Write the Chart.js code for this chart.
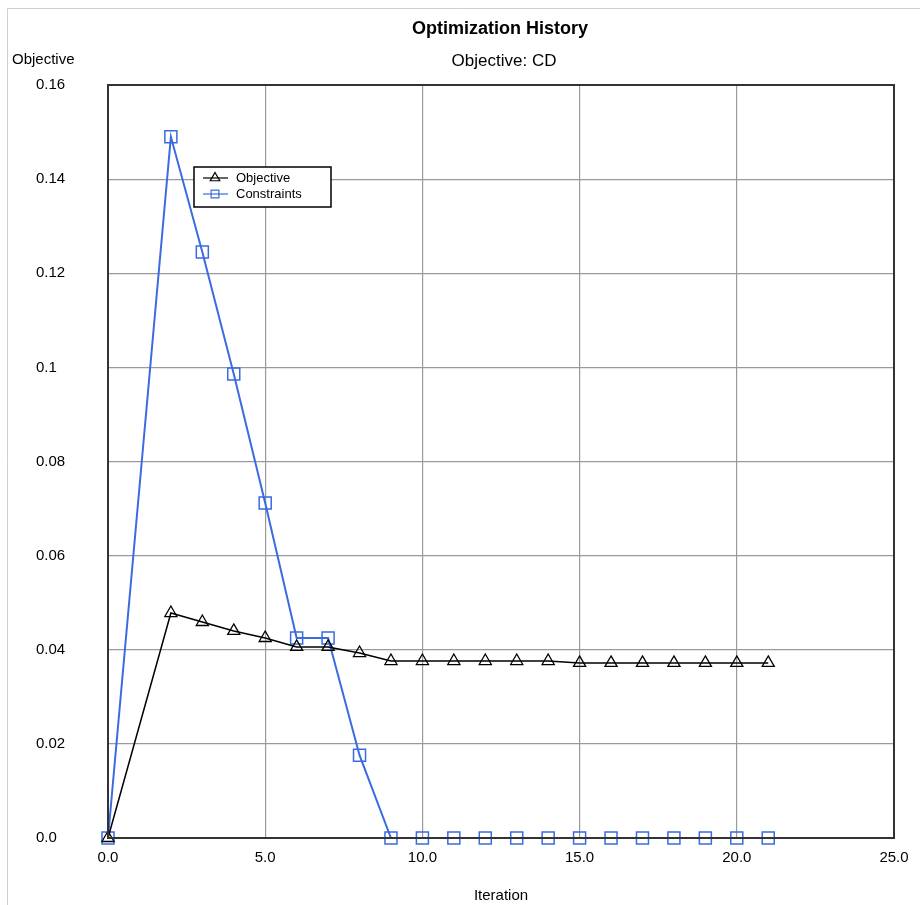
<!DOCTYPE html>
<html>
<head>
<meta charset="utf-8">
<script src="https://cdn.jsdelivr.net/npm/chart.js@4/dist/chart.umd.min.js"></script>
<style>
  html, body { margin: 0; padding: 0; background: #fff; }
  #wrap { width: 920px; height: 905px; position: relative; }
</style>
</head>
<body>
<div id="wrap"><canvas id="chart" width="920" height="905"></canvas></div>
<script>
// Optimization history
const ITERATIONS = [0, 2, 3, 4, 5, 6, 7, 8, 9, 10, 11, 12, 13, 14, 15, 16, 17, 18, 19, 20, 21];
const OBJECTIVE = [0, 0.0478, 0.0459, 0.0440, 0.0425, 0.0406, 0.0406, 0.0393, 0.0376, 0.0376,
  0.0376, 0.0376, 0.0376, 0.0376, 0.0372, 0.0372, 0.0372, 0.0372, 0.0372, 0.0372, 0.0372];
const CONSTRAINTS = [0, 0.149, 0.1245, 0.0986, 0.0712, 0.0425, 0.0425, 0.0176, 0, 0,
  0, 0, 0, 0, 0, 0, 0, 0, 0, 0, 0];
const Y_TICK_LABELS = ['0.0', '0.02', '0.04', '0.06', '0.08', '0.1', '0.12', '0.14', '0.16'];

const FONT = "'Liberation Sans', Arial, sans-serif";
const BLUE = '#3a6be0';

const toPoints = vals => ITERATIONS.map((x, i) => ({ x, y: vals[i] }));

// titles, frame, plot border and the boxed legend inside the plot
const decorPlugin = {
  id: 'decor',
  beforeDraw(chart) {
    const { ctx } = chart;
    ctx.save();
    ctx.strokeStyle = '#cfcfcf';
    ctx.lineWidth = 1;
    ctx.beginPath();
    ctx.moveTo(7.5, 905); ctx.lineTo(7.5, 8.5); ctx.lineTo(920, 8.5);
    ctx.stroke();
    ctx.restore();
  },
  afterDatasetsDraw(chart) {
    const { ctx, chartArea: a } = chart;
    ctx.save();
    // plot border
    ctx.strokeStyle = '#333';
    ctx.lineWidth = 2;
    ctx.strokeRect(a.left, a.top, a.right - a.left, a.bottom - a.top);

    // title + subtitle centred on the plot area
    const cx = (a.left + a.right) / 2;
    ctx.fillStyle = '#000';
    ctx.textAlign = 'center';
    ctx.textBaseline = 'middle';
    ctx.font = `bold 18px ${FONT}`;
    ctx.fillText('Optimization History', cx - 1, 29);
    ctx.font = `17px ${FONT}`;
    ctx.fillText('Objective: CD', cx + 3, 61);
    ctx.textAlign = 'left';
    ctx.font = `15px ${FONT}`;
    ctx.fillText('Objective', 12, 60);

    // legend
    const lx = 194, ly = 167, lw = 137, lh = 40;
    ctx.fillStyle = '#fff';
    ctx.fillRect(lx, ly, lw, lh);
    ctx.strokeStyle = '#000';
    ctx.lineWidth = 1.5;
    ctx.strokeRect(lx, ly, lw, lh);
    chart.data.datasets.forEach((ds, i) => {
      const y = ly + 11 + i * 16;
      ctx.strokeStyle = ds.borderColor;
      ctx.lineWidth = 1.2;
      ctx.beginPath();
      ctx.moveTo(lx + 9, y); ctx.lineTo(lx + 34, y);
      ctx.stroke();
      ctx.fillStyle = 'rgba(255,255,255,0)';
      Chart.helpers.drawPoint(ctx, {
        pointStyle: ds.pointStyle, radius: 5.5, rotation: 0, borderWidth: 1.2
      }, lx + 21, y);
      ctx.fillStyle = '#000';
      ctx.font = `13px ${FONT}`;
      ctx.textAlign = 'left';
      ctx.fillText(ds.label, lx + 42, y);
    });
    ctx.restore();
  }
};

new Chart(document.getElementById('chart'), {
  type: 'line',
  data: {
    datasets: [
      {
        label: 'Objective',
        data: toPoints(OBJECTIVE),
        borderColor: '#000',
        borderWidth: 1.5,
        pointStyle: 'triangle',
        pointRadius: 7,
        pointBorderColor: '#000',
        pointBackgroundColor: 'rgba(255,255,255,0)',
        pointBorderWidth: 1.3,
        tension: 0,
        clip: false,
      },
      {
        label: 'Constraints',
        data: toPoints(CONSTRAINTS),
        borderColor: BLUE,
        borderWidth: 2,
        pointStyle: 'rect',
        pointRadius: 8.5,
        pointBorderColor: BLUE,
        pointBackgroundColor: 'rgba(255,255,255,0)',
        pointBorderWidth: 1.5,
        tension: 0,
        clip: false,
      }
    ]
  },
  options: {
    responsive: false,
    animation: false,
    layout: { padding: { top: 85, right: 26, left: 36, bottom: 0 } },
    plugins: {
      legend: { display: false },
      title: { display: false },
      tooltip: { enabled: false },
    },
    scales: {
      x: {
        type: 'linear',
        min: 0,
        max: 25,
        ticks: {
          stepSize: 5,
          color: '#000',
          padding: 11,
          font: { family: FONT, size: 15 },
          callback: v => v.toFixed(1),
        },
        grid: { color: '#9a9a9a', lineWidth: 1.2, drawTicks: false },
        border: { display: false },
        title: {
          display: true,
          text: 'Iteration',
          color: '#000',
          font: { family: FONT, size: 15 },
          padding: { top: 0, bottom: 0 },
        },
        afterFit(scale) { scale.height = 67; },
      },
      y: {
        min: 0,
        max: 0.16,
        ticks: {
          stepSize: 0.02,
          color: '#000',
          crossAlign: 'far',
          font: { family: FONT, size: 15 },
          callback: (v, i) => Y_TICK_LABELS[i],
        },
        grid: { color: '#9a9a9a', lineWidth: 1.2, drawTicks: false },
        border: { display: false },
        afterFit(scale) { scale.width = 72; },
      }
    }
  },
  plugins: [decorPlugin]
});
</script>
</body>
</html>
